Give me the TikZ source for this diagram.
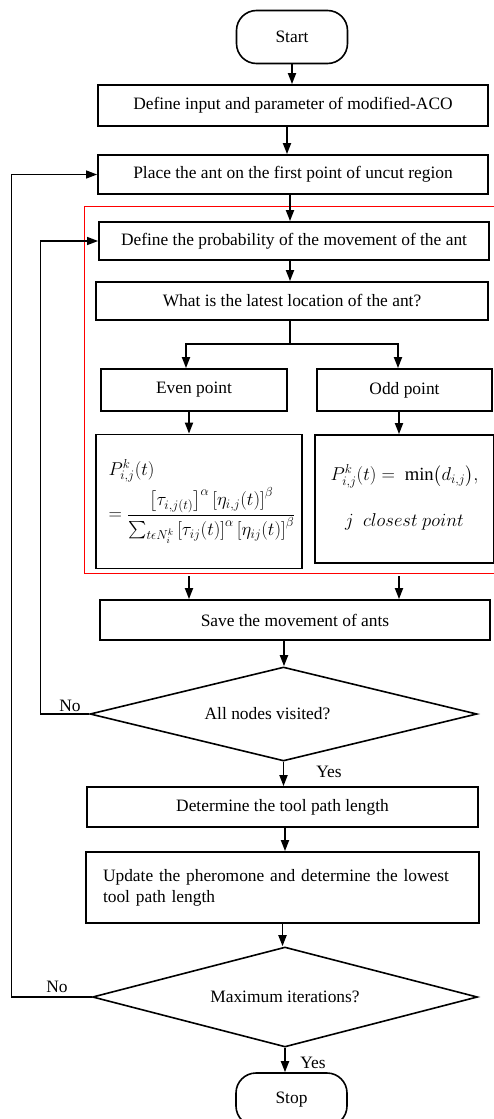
\RequirePackage{fix-cm}
\documentclass[tikz,border=0pt]{standalone}
\usepackage{amsmath}
\usepackage{fontspec}
\setmainfont{Liberation Serif}
\usetikzlibrary{arrows.meta,shapes.geometric}
\begin{document}
\begin{tikzpicture}[x=1pt,y=-1pt,
  every node/.style={font=\fontsize{17.4}{21}\selectfont},
  box/.style={draw, line width=1.8pt, inner sep=0pt, align=center},
  mathbox/.style={box, font=\fontsize{18.6}{22}\selectfont},
  term/.style={draw, line width=1.6pt, rounded corners=20pt, minimum width=111pt, minimum height=53pt, inner sep=0pt},
  dec/.style={draw, diamond, aspect=4, line width=1.6pt, inner sep=0pt},
  arr/.style={line width=1.8pt, -{Triangle[length=11pt,width=8pt]}},
  back/.style={line width=1.3pt, -{Triangle[length=11pt,width=8pt]}},
  lbl/.style={inner sep=0pt}
]
\useasboundingbox (0,0) rectangle (494,1119);

\node[term] (start) at (292,37) {Start};
\node[box, minimum width=390pt, minimum height=41pt] (b1) at (293,105.5) {Define input and parameter of modified-ACO};
\node[box, minimum width=390pt, minimum height=39pt] (b2) at (293,174.5) {Place the ant on the first point of uncut region};
\node[draw=red, line width=1pt, minimum width=413pt, minimum height=367pt, anchor=north west, inner sep=0pt] (grp) at (84,206) {};
\node[box, minimum width=390pt, minimum height=38pt] (b3) at (294,241) {Define the probability of the movement of the ant};
\node[box, minimum width=392pt, minimum height=38pt] (b4) at (292,301) {What is the latest location of the ant?};
\node[box, minimum width=186pt, minimum height=42pt] (even) at (194,390) {Even point};
\node[box, minimum width=175pt, minimum height=42pt] (odd) at (404.5,390) {Odd point};
\node[mathbox, minimum width=206pt, minimum height=134pt] (fl) at (199,501.5) {\hspace*{6pt}$\begin{array}{@{}l@{}}
P^{k}_{i,j}(t)\\[6pt]
=\dfrac{\left[\tau_{i,j(t)}\right]^{\alpha}\left[\eta_{i,j}(t)\right]^{\beta}}{\sum_{t\epsilon N_i^k}\left[\tau_{ij}(t)\right]^{\alpha}\left[\eta_{ij}(t)\right]^{\beta}}
\end{array}$};
\node[mathbox, minimum width=179pt, minimum height=128pt] (fr) at (404.5,499) {$\begin{array}{@{}c@{}}
P^{k}_{i,j}(t) =\ \min\bigl(d_{i,j}\bigr),\\[24pt]
j\ \ closest\ point
\end{array}$};
\node[box, minimum width=390pt, minimum height=40pt] (save) at (295,620) {Save the movement of ants};
\node[dec, minimum width=387pt, minimum height=94pt] (d1) at (283.5,714) {All nodes visited?\hspace*{32pt}};
\node[box, minimum width=391pt, minimum height=40pt] (det) at (282.5,807) {Determine the tool path length};
\node[box, minimum width=393pt, minimum height=71pt, text width=359pt, align=left] (upd) at (282.5,887.5) {Update the pheromone and determine the lowest\\ tool path length};
\node[dec, minimum width=385pt, minimum height=100pt] (d2) at (285,997) {Maximum iterations?};
\node[term] (stop) at (291.5,1099.5) {Stop};

\draw[arr] (start.south) -- (start.south |- b1.north);
\draw[arr] ([xshift=-6pt]b1.south) -- ([xshift=-6pt]b1.south |- b2.north);
\draw[arr] ([xshift=-3pt]b2.south) -- ([xshift=-3pt]b2.south |- b3.north);
\draw[arr] ([xshift=-4pt]b3.south) -- ([xshift=-4pt]b3.south |- b4.north);
\draw[line width=1.8pt] ([xshift=-2pt]b4.south) -- ++(0,23) coordinate (sp);
\draw[arr] (sp) -| ([xshift=-8pt]even.north);
\draw[arr] (sp) -| ([xshift=-6.5pt]odd.north);
\draw[arr] ([xshift=-5pt]even.south) -- ([xshift=-5pt]even.south |- fl.north);
\draw[arr] ([xshift=-5.5pt]odd.south) -- ([xshift=-5.5pt]odd.south |- fr.north);
\draw[arr] ([xshift=-5pt,yshift=-2pt]even.south |- grp.south) -- ([xshift=-5pt]even.south |- save.north);
\draw[arr] ([xshift=-5.5pt,yshift=-2pt]odd.south |- grp.south) -- ([xshift=-5.5pt]odd.south |- save.north);
\draw[arr] ([xshift=-11pt]save.south) -- ([xshift=-11pt]save.south |- d1.north);
\draw[arr] (d1.south) -- (d1.south |- det.north);
\draw[arr] ([xshift=2.5pt]det.south) -- ([xshift=2.5pt]det.south |- upd.north);
\draw[arr] (upd.south) -- (upd.south |- d2.north);
\draw[arr] (d2.south) -- (d2.south |- stop.north);

\draw[back] (d1.west) -- ++(-49,0) |- (b3.west);
\draw[back] (d2.west) -- ++(-80,0) |- (b2.west);

\node[lbl] (no1) at (70,706) {No};
\node[lbl] (yes1) at (329,772) {Yes};
\node[lbl] (no2) at (57,987) {No};
\node[lbl] (yes2) at (313,1063) {Yes};
\end{tikzpicture}
\end{document}
